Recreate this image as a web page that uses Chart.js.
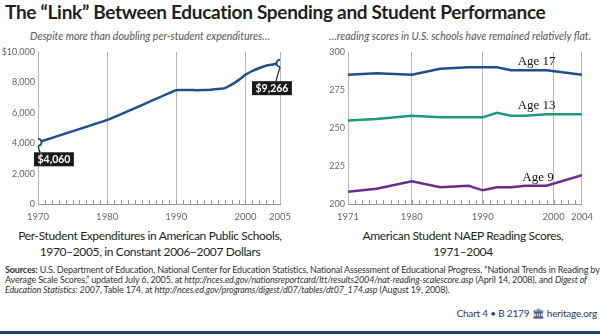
<!DOCTYPE html>
<html>
<head>
<meta charset="utf-8">
<script src="https://cdn.jsdelivr.net/npm/chart.js@4.4.1/dist/chart.umd.min.js"></script>
<style>
  body { margin: 0; width: 600px; height: 336px; position: relative; background: #fff;
         font-family: Lato, "Open Sans", sans-serif; color: #231f20; overflow: hidden; }
  .abs { position: absolute; }
  #title { left: 5px; top: 0px; font-size: 19px; font-weight: bold; white-space: nowrap; letter-spacing: -0.3px; }
  .sub { top: 30px; font-size: 10.5px; font-style: italic; color: #555; white-space: nowrap; text-align: center; }
  .axt { top: 228px; font-size: 12px; line-height: 16px; text-align: center; white-space: nowrap; letter-spacing: -0.35px; }
  #sources { left: 5px; top: 265px; font-size: 9px; line-height: 10.2px; color: #333; white-space: nowrap; letter-spacing: -0.15px; }
  #footer { right: 3px; top: 307px; font-size: 10px; color: #1c3f6e; white-space: nowrap; letter-spacing: -0.2px; }
  #bar { left: 0; top: 331px; width: 600px; height: 3px; background: #1c3f6e; }
  .box { position: absolute; }
</style>
</head>
<body>
<div id="title" class="abs">The “Link” Between Education Spending and Student Performance</div>
<div class="abs sub" style="left:10px;width:280px;">Despite more than doubling per-student expenditures…</div>
<div class="abs sub" style="left:320px;width:280px;">…reading scores in U.S. schools have remained relatively flat.</div>

<div class="box" style="left:0;top:42px;width:300px;height:186px;"><canvas id="spend"></canvas></div>
<div class="box" style="left:300px;top:42px;width:300px;height:186px;"><canvas id="scores"></canvas></div>

<div class="abs axt" style="left:0;width:300px;">Per-Student Expenditures in American Public Schools,<br>1970–2005, in Constant 2006–2007 Dollars</div>
<div class="abs axt" style="left:313px;width:300px;">American Student NAEP Reading Scores,<br>1971–2004</div>

<div id="sources" class="abs"><b>Sources:</b> U.S. Department of Education, National Center for Education Statistics, National Assessment of Educational Progress, “National Trends in Reading by<br>Average Scale Scores,” updated July 6, 2005, at <i>http://nces.ed.gov/nationsreportcard/ltt/results2004/nat-reading-scalescore.asp</i> (April 14, 2008), and <i>Digest of</i><br><i>Education Statistics: 2007</i>, Table 174, at <i>http://nces.ed.gov/programs/digest/d07/tables/dt07_174.asp</i> (August 19, 2008).</div>
<div id="footer" class="abs">Chart 4 • B 2179 &#x1F3DB; heritage.org</div>
<div id="bar" class="abs"></div>

<script>
// spending per student, constant 2006-07 dollars
const spendYears = [1970, 1980, 1990, 1991, 1992, 1993, 1994, 1995, 1996, 1997, 1998, 1999, 2000, 2001, 2002, 2003, 2004, 2005];
const spendValues = [4060, 5530, 7490, 7500, 7500, 7490, 7500, 7520, 7560, 7620, 7850, 8150, 8500, 8750, 8950, 9100, 9180, 9266];
const spendXTicks = [1970, 1980, 1990, 2000, 2005];
const spendYTicks = [0, 2000, 4000, 6000, 8000, 10000];

// NAEP long-term trend reading scores
const scoreYears = [1971, 1975, 1980, 1984, 1988, 1990, 1992, 1994, 1996, 1999, 2004];
const age17 = [285, 286, 285, 289, 290, 290, 290, 288, 288, 288, 285];
const age13 = [255, 256, 258, 257, 257, 257, 260, 258, 258, 259, 259];
const age9 = [208, 210, 215, 211, 212, 209, 211, 211, 212, 212, 219];
const scoreXTicks = [1971, 1980, 1990, 2000, 2004];
const scoreYTicks = [200, 225, 250, 275, 300];

const tickFont = { family: "Lato, sans-serif", size: 9.5 };
const yTickFont = { family: "Lato, sans-serif", size: 9 };

// small year ticks, callout boxes and series labels
const decor = {
  id: "decor",
  afterDatasetsDraw(chart, args, opts) {
    const ctx = chart.ctx;
    const x = chart.scales.x;
    const y = chart.scales.y;
    ctx.save();
    ctx.strokeStyle = "#999";
    ctx.lineWidth = 1;
    for (let v = x.min + 1; v < x.max; v++) {
      const px = Math.round(x.getPixelForValue(v)) + 0.5;
      ctx.beginPath();
      ctx.moveTo(px, y.bottom);
      ctx.lineTo(px, y.bottom - 4);
      ctx.stroke();
    }
    (opts.callouts || []).forEach(function (c) {
      const pt = chart.getDatasetMeta(0).data[c.index];
      ctx.font = "bold 10.5px Lato, sans-serif";
      const w = ctx.measureText(c.text).width + 7;
      const bx = pt.x + c.dx;
      const by = pt.y + c.dy;
      ctx.strokeStyle = "#222";
      ctx.lineWidth = 1.2;
      ctx.beginPath();
      ctx.moveTo(pt.x, pt.y + 4);
      ctx.lineTo(c.dx < -10 ? bx + w / 2 + 4 : bx + 6, by);
      ctx.stroke();
      ctx.fillStyle = "#1a1a1a";
      ctx.fillRect(bx, by, w, 14);
      ctx.fillStyle = "#fff";
      ctx.textBaseline = "middle";
      ctx.textAlign = "left";
      ctx.fillText(c.text, bx + 3.5, by + 7.5);
    });
    (opts.labels || []).forEach(function (l) {
      ctx.font = "13px 'Liberation Serif', serif";
      ctx.fillStyle = "#111";
      ctx.textAlign = "center";
      ctx.textBaseline = "middle";
      ctx.fillText(l.text, x.getPixelForValue(l.x), y.getPixelForValue(l.y));
    });
    ctx.restore();
  },
};

function baseOptions(xTicks, yTicks, xMin, xMax, yMin, yMax, yWidth, padRight, yFmt) {
  return {
    responsive: true,
    maintainAspectRatio: false,
    animation: false,
    layout: { padding: { top: 10, right: padRight, bottom: 0, left: 0 } },
    scales: {
      x: {
        type: "linear",
        min: xMin,
        max: xMax,
        afterBuildTicks: (s) => { s.ticks = xTicks.map((v) => ({ value: v })); },
        afterFit: (s) => { s.height = 24; },
        grid: { color: "#b5b5b5", drawTicks: false, lineWidth: 1 },
        border: { color: "#999" },
        ticks: { color: "#666", font: tickFont, padding: 7, maxRotation: 0, callback: (v) => String(v) },
      },
      y: {
        min: yMin,
        max: yMax,
        afterBuildTicks: (s) => { s.ticks = yTicks.map((v) => ({ value: v })); },
        afterFit: (s) => { s.width = yWidth; },
        grid: { display: false, drawTicks: false },
        border: { color: "#b5b5b5" },
        ticks: { color: "#666", font: yTickFont, padding: 3, callback: yFmt },
      },
    },
    plugins: { legend: { display: false }, tooltip: { enabled: false } },
  };
}

const spendOptions = baseOptions(spendXTicks, spendYTicks, 1970, 2005, 0, 10000, 38, 20,
  (v) => (v === 10000 ? "$" : "") + v.toLocaleString("en-US"));
spendOptions.plugins.decor = {
  callouts: [
    { index: 0, text: "$4,060", dx: -4, dy: 10 },
    { index: spendValues.length - 1, text: "$9,266", dx: -28, dy: 18 },
  ],
};

new Chart(document.getElementById("spend"), {
  type: "line",
  data: {
    datasets: [
      {
        data: spendYears.map((yr, i) => ({ x: yr, y: spendValues[i] })),
        borderColor: "#1f4f8f",
        borderWidth: 2.5,
        tension: 0.15,
        pointRadius: (c) => (c.dataIndex === 0 || c.dataIndex === spendValues.length - 1 ? 3.5 : 0),
        pointBackgroundColor: "#fff",
        pointBorderColor: "#1f4f8f",
        pointBorderWidth: 2,
      },
    ],
  },
  options: spendOptions,
  plugins: [decor],
});

const scoreOptions = baseOptions(scoreXTicks, scoreYTicks, 1971, 2004, 200, 300, 48, 12, (v) => String(v));
scoreOptions.plugins.decor = {
  labels: [
    { text: "Age 17", x: 1997.6, y: 294 },
    { text: "Age 13", x: 1997.6, y: 264.5 },
    { text: "Age 9", x: 1997.8, y: 217.5 },
  ],
};

function scoreSet(vals, color) {
  return {
    data: scoreYears.map((yr, i) => ({ x: yr, y: vals[i] })),
    borderColor: color,
    borderWidth: 2.5,
    pointRadius: 0,
    tension: 0,
  };
}

new Chart(document.getElementById("scores"), {
  type: "line",
  data: {
    datasets: [
      scoreSet(age17, "#1f4f8f"),
      scoreSet(age13, "#1d9a7a"),
      scoreSet(age9, "#6b2d8c"),
    ],
  },
  options: scoreOptions,
  plugins: [decor],
});
</script>
</body>
</html>
